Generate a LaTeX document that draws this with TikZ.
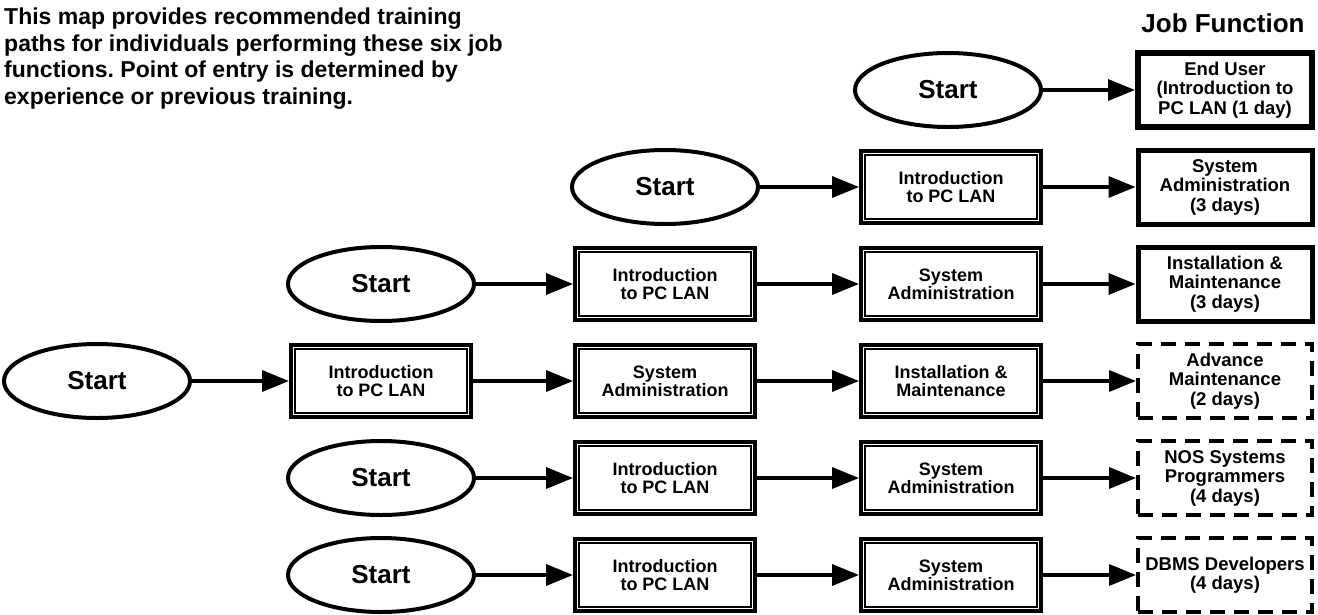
\documentclass[tikz,border=0pt]{standalone}
\usepackage{fontspec}
\setmainfont{Liberation Sans}
\usetikzlibrary{arrows.meta,shapes.geometric,calc}
\frenchspacing
\begin{document}
\begin{tikzpicture}[x=1pt,y=-1pt,
  startnode/.style={ellipse, draw, line width=4pt, minimum width=186pt,
    minimum height=74pt, inner sep=0pt, font=\fontsize{26}{28}\selectfont\bfseries},
  coursebox/.style={rectangle, draw, line width=4pt, minimum width=180pt,
    minimum height=72pt, inner sep=0pt, align=center,
    font=\fontsize{18}{18}\selectfont\bfseries},
  jobbox/.style={rectangle, draw, line width=6pt, minimum width=174pt,
    minimum height=74pt, inner sep=0pt, align=center,
    font=\fontsize{18.5}{19.5}\selectfont\bfseries},
  optbox/.style={jobbox, line width=4pt, dash pattern=on 15pt off 9pt},
  flow/.style={line width=3.5pt, -{Triangle[length=27pt,width=21pt]}},
  innerline/.style={line width=1.6pt},
]
\useasboundingbox (0,0) rectangle (1318,614);

% explanatory note and column heading
\node[anchor=north west, align=left, inner sep=0pt,
  font=\fontsize{23}{26.5}\selectfont\bfseries] (note) at (4,8)
  {This map provides recommended training\\
   paths for individuals performing these six job\\
   functions. Point of entry is determined by\\
   experience or previous training.};
\node[font=\fontsize{26}{28}\selectfont\bfseries] (head) at (1223,23) {Job Function};

% row 1
\node[startnode] (s1) at (948,90) {Start};
\node[jobbox] (j1) at (1225,90) {End User\\(Introduction to\\PC LAN (1 day)};
% row 2
\node[startnode] (s2) at (665,187) {Start};
\node[coursebox] (a2) at (951,187) {Introduction\\to PC LAN};
\node[jobbox, line width=5pt] (j2) at (1225,187) {System\\Administration\\(3 days)};
% row 3
\node[startnode] (s3) at (381,284) {Start};
\node[coursebox] (a3) at (665,284) {Introduction\\to PC LAN};
\node[coursebox] (b3) at (951,284) {System\\Administration};
\node[jobbox, line width=5pt] (j3) at (1225,284) {Installation \&\\Maintenance\\(3 days)};
% row 4
\node[startnode] (s4) at (97,381) {Start};
\node[coursebox] (a4) at (381,381) {Introduction\\to PC LAN};
\node[coursebox] (b4) at (665,381) {System\\Administration};
\node[coursebox] (c4) at (951,381) {Installation \&\\Maintenance};
\node[optbox] (j4) at (1225,381) {Advance\\Maintenance\\(2 days)};
% row 5
\node[startnode] (s5) at (381,478) {Start};
\node[coursebox] (a5) at (665,478) {Introduction\\to PC LAN};
\node[coursebox] (b5) at (951,478) {System\\Administration};
\node[optbox] (j5) at (1225,478) {NOS Systems\\Programmers\\(4 days)};
% row 6
\node[startnode] (s6) at (381,575) {Start};
\node[coursebox] (a6) at (665,575) {Introduction\\to PC LAN};
\node[coursebox] (b6) at (951,575) {System\\Administration};
\node[optbox] (j6) at (1225,575) {DBMS Developers\\(4 days)};

% thin inner frame of every course box
\foreach \n in {a2,a3,b3,a4,b4,c4,a5,b5,a6,b6}
  \draw[innerline] ($(\n.south west)+(6pt,6pt)$) rectangle ($(\n.north east)+(-6pt,-6pt)$);

% training paths
\draw[flow] (s1) -- (j1);
\draw[flow] (s2) -- (a2);
\draw[flow] (a2) -- (j2);
\draw[flow] (s3) -- (a3);
\draw[flow] (a3) -- (b3);
\draw[flow] (b3) -- (j3);
\draw[flow] (s4) -- (a4);
\draw[flow] (a4) -- (b4);
\draw[flow] (b4) -- (c4);
\draw[flow] (c4) -- (j4);
\draw[flow] (s5) -- (a5);
\draw[flow] (a5) -- (b5);
\draw[flow] (b5) -- (j5);
\draw[flow] (s6) -- (a6);
\draw[flow] (a6) -- (b6);
\draw[flow] (b6) -- (j6);
\end{tikzpicture}
\end{document}
